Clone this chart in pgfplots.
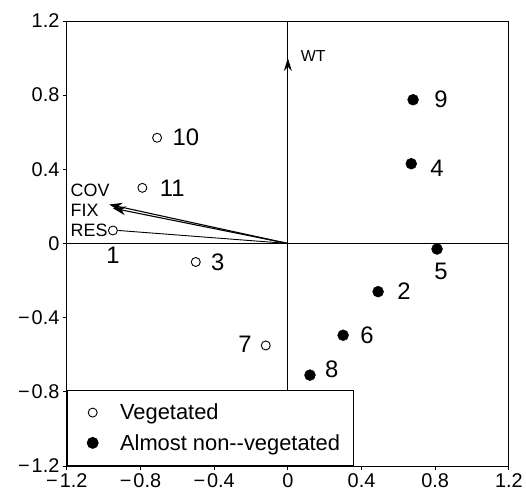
\documentclass[border=0pt]{standalone}
\usepackage{pgfplots}
\pgfplotsset{compat=1.18}
\usepackage{pgfplotstable}
\usepackage{fontspec}
\setmainfont{Liberation Sans}
\usetikzlibrary{arrows.meta}

\pgfplotstableread{
x y lab dx dy
-0.95 0.07 1 0 -25
-0.50 -0.10 3 22 0
-0.12 -0.55 7 -21 1
-0.71 0.57 10 29 0
-0.79 0.30 11 30 0
}\veg

\pgfplotstableread{
x y lab dx dy
0.49 -0.26 2 26 0
0.67 0.43 4 26 -5
0.81 -0.03 5 4 -23
0.30 -0.495 6 24 0
0.12 -0.71 8 22 6
0.68 0.775 9 28 0
}\nonveg

\newcommand\mn{−\kern2bp}
\begin{document}
\begin{tikzpicture}
\begin{axis}[
  scale only axis, width=443bp, height=446bp,
  xmin=-1.2, xmax=1.2, ymin=-1.2, ymax=1.2,
  xtick={-1.2,-0.8,-0.4,0,0.4,0.8,1.2},
  xticklabels={\mn1.2,\mn0.8,\mn0.4,0,0.4,0.8,1.2},
  ytick={-1.2,-0.8,-0.4,0,0.4,0.8,1.2},
  yticklabels={\mn1.2,\mn0.8,\mn0.4,0,0.4,0.8,1.2},
  tick align=outside, xtick pos=bottom, ytick pos=left,
  major tick length=4bp,
  tick style={black, line width=0.8bp},
  tick label style={font=\fontsize{20}{20}\selectfont},
  axis line style={line width=0.9bp},
  clip=false,
  legend cell align=left,
  legend image code/.code={\draw[#1] plot coordinates {(0bp,0bp)}; \path (-14bp,0bp) (25bp,0bp);},
  legend style={at={(rel axis cs:0,0)}, anchor=south west, draw=black, line width=0.9bp,
    font=\fontsize{22}{22}\selectfont, row sep=9bp, inner xsep=11bp, inner ysep=12bp},
]
% zero lines
\addplot[black, line width=0.9bp, forget plot] coordinates {(-1.2,0) (1.2,0)};
\addplot[black, line width=0.9bp, forget plot] coordinates {(0,1.2) (0,-0.79)};
% arrows
\addplot[black, line width=1.1bp, -{Stealth[length=13bp,width=8bp]}, forget plot] coordinates {(0,0) (0,1.0)};
\addplot[black, line width=1.1bp, -{Stealth[length=13bp,width=9bp]}, forget plot] coordinates {(0,0) (-0.97,0.21)};
\addplot[black, line width=1.1bp, -{Stealth[length=13bp,width=9bp]}, forget plot] coordinates {(0,0) (-0.95,0.19)};
\addplot[black, line width=0.9bp, forget plot] coordinates {(0,0) (-0.92,0.07)};
% points
\addplot[only marks, mark=o, mark size=4.5bp, black, line width=0.9bp,
  nodes near coords, point meta=explicit symbolic,
  visualization depends on={\thisrow{dx} \as \dx},
  visualization depends on={\thisrow{dy} \as \dy},
  nodes near coords style={anchor=center, xshift=\dx, yshift=\dy, font=\fontsize{24}{24}\selectfont}]
  table[meta=lab] {\veg};
\addlegendentry{Vegetated}
\addplot[only marks, mark=*, mark size=5.5bp, black,
  nodes near coords, point meta=explicit symbolic,
  visualization depends on={\thisrow{dx} \as \dx},
  visualization depends on={\thisrow{dy} \as \dy},
  nodes near coords style={anchor=center, xshift=\dx, yshift=\dy, font=\fontsize{24}{24}\selectfont}]
  table[meta=lab] {\nonveg};
\addlegendentry{Almost non{-}{-}vegetated}
% arrow labels
\node[anchor=west, font=\fontsize{18}{18}\selectfont, inner sep=0pt] at (axis cs:-1.18,0.285) {COV};
\node[anchor=west, font=\fontsize{18}{18}\selectfont, inner sep=0pt] at (axis cs:-1.18,0.18) {FIX};
\node[anchor=west, font=\fontsize{18}{18}\selectfont, inner sep=0pt] at (axis cs:-1.18,0.07) {RES};
\node[anchor=west, font=\fontsize{16}{16}\selectfont, inner sep=0pt] at (axis cs:0.07,1.01) {WT};
\end{axis}
\path (current axis.south west) ++(-67bp,-25bp);
\path (current axis.north east) ++(16bp,21bp);
\end{tikzpicture}
\end{document}
